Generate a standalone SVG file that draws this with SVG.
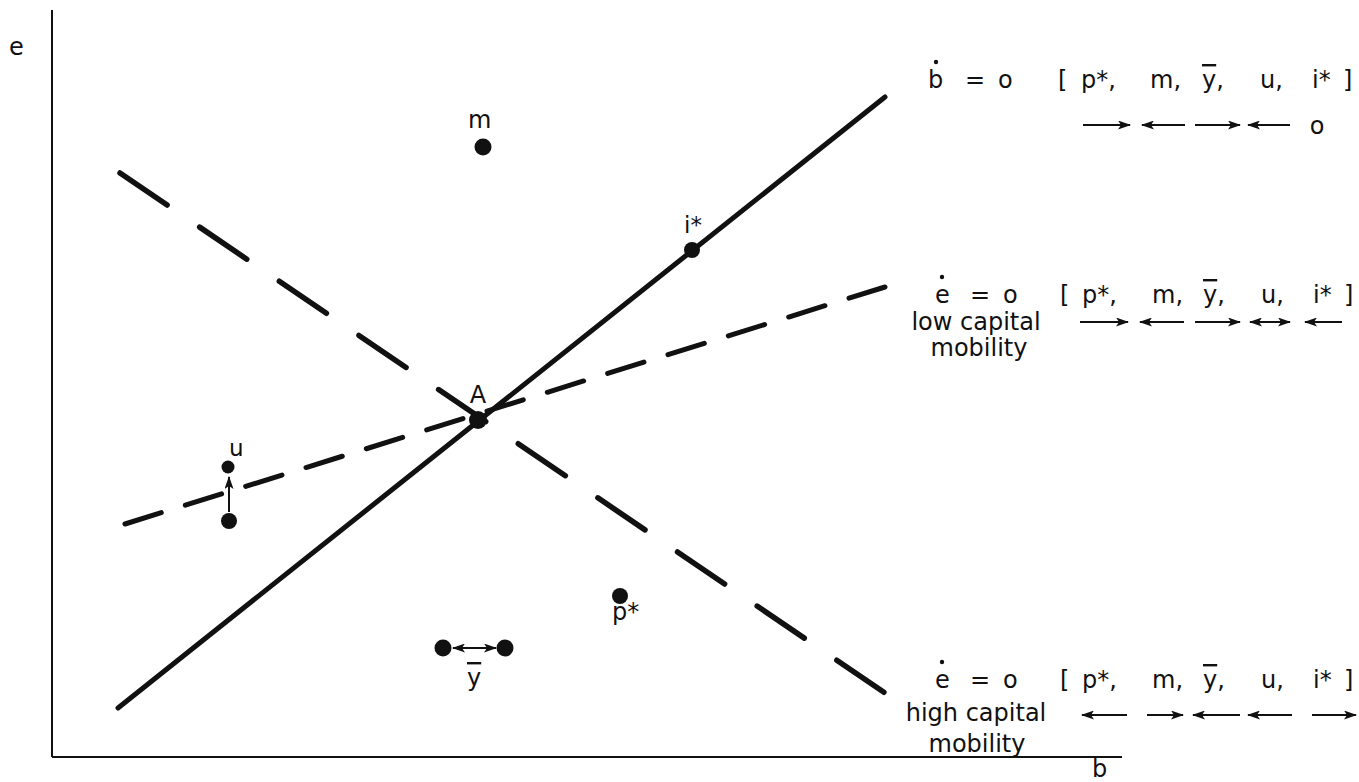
<svg xmlns="http://www.w3.org/2000/svg" width="1359" height="782" viewBox="0 0 1359 782">
<style>
  .t{font-family:"DejaVu Sans","Liberation Sans",sans-serif;font-size:24px;fill:#111}
  .s{font-family:"DejaVu Sans","Liberation Sans",sans-serif;font-size:23px;fill:#111}
  .ov{text-decoration:overline}
  .ax{stroke:#111;stroke-width:2;fill:none}
  .solid{stroke:#111;stroke-width:5;stroke-linecap:round;fill:none}
  .dash1{stroke:#111;stroke-width:5.5;stroke-linecap:round;fill:none;stroke-dasharray:57 39.3}
  .dash2{stroke:#111;stroke-width:5;stroke-linecap:round;fill:none;stroke-dasharray:38 25.2}
  .ar{stroke:#111;stroke-width:2;fill:none}
  .dot{fill:#111}
</style>
<defs>
  <marker id="ah" viewBox="0 0 13 9" refX="12" refY="4.5" markerWidth="13" markerHeight="9" orient="auto-start-reverse" markerUnits="userSpaceOnUse">
    <path d="M0,0 L13,4.5 L0,9 L3,4.5 Z" fill="#111"/>
  </marker>
</defs>
<rect width="1359" height="782" fill="#fff"/>

<g id="axes">
  <line class="ax" x1="52" y1="10" x2="52" y2="757"/>
  <line class="ax" x1="52" y1="757" x2="1122" y2="757"/>
  <text class="t" x="9" y="55">e</text>
  <text class="t" x="1092" y="777">b</text>
</g>

<g id="connectors">
  <line class="solid" x1="118" y1="708" x2="885" y2="97"/>
  <line class="dash1" x1="120" y1="173" x2="885" y2="693"/>
  <line class="dash2" x1="125" y1="524" x2="885" y2="287"/>
  <line class="ar" x1="229" y1="512" x2="229" y2="477" marker-end="url(#ah)"/>
  <line class="ar" x1="453" y1="648" x2="496" y2="648" marker-start="url(#ah)" marker-end="url(#ah)"/>
</g>

<g id="node-m">
  <circle class="dot" cx="483" cy="147" r="8.5"/>
  <text class="t" x="468" y="128">m</text>
</g>
<g id="node-istar">
  <circle class="dot" cx="692" cy="250" r="8"/>
  <text class="s" x="684" y="233">i*</text>
</g>
<g id="node-A">
  <circle class="dot" cx="478" cy="420" r="9"/>
  <text class="t" x="478" y="403" text-anchor="middle">A</text>
</g>
<g id="node-u">
  <circle class="dot" cx="228" cy="467" r="6.5"/>
  <circle class="dot" cx="229" cy="521" r="8"/>
  <text class="s" x="229" y="456">u</text>
</g>
<g id="node-pstar">
  <circle class="dot" cx="620" cy="596" r="8"/>
  <text class="t" x="612" y="620">p*</text>
</g>
<g id="node-ybar">
  <circle class="dot" cx="443" cy="648" r="8.5"/>
  <circle class="dot" cx="505" cy="648" r="8.5"/>
  <text class="t ov" x="467" y="686">y</text>
</g>

<g id="eq-bdot">
  <text class="t" x="928" y="88">b</text>
  <circle class="dot" cx="936" cy="62" r="2.2"/>
  <text class="t" x="965" y="88">=</text>
  <text class="t" x="998" y="88">o</text>
  <text class="t" x="1058" y="88">[</text>
  <text class="t" x="1081" y="88">p*,</text>
  <text class="t" x="1150" y="88">m,</text>
  <text class="t" x="1202" y="88"><tspan class="ov">y</tspan>,</text>
  <text class="t" x="1260" y="88">u,</text>
  <text class="t" x="1312" y="88">i*</text>
  <text class="t" x="1343" y="88">]</text>
  <line class="ar" x1="1083" y1="125" x2="1130" y2="125" marker-end="url(#ah)"/>
  <line class="ar" x1="1185" y1="125" x2="1142" y2="125" marker-end="url(#ah)"/>
  <line class="ar" x1="1195" y1="125" x2="1240" y2="125" marker-end="url(#ah)"/>
  <line class="ar" x1="1290" y1="125" x2="1248" y2="125" marker-end="url(#ah)"/>
  <text class="t" x="1317" y="134" text-anchor="middle">o</text>
</g>

<g id="eq-edot-low">
  <text class="t" x="935" y="303">e</text>
  <circle class="dot" cx="942" cy="277" r="2.2"/>
  <text class="t" x="970" y="303">=</text>
  <text class="t" x="1003" y="303">o</text>
  <text class="t" x="1060" y="303">[</text>
  <text class="t" x="1082" y="303">p*,</text>
  <text class="t" x="1152" y="303">m,</text>
  <text class="t" x="1203" y="303"><tspan class="ov">y</tspan>,</text>
  <text class="t" x="1261" y="303">u,</text>
  <text class="t" x="1313" y="303">i*</text>
  <text class="t" x="1344" y="303">]</text>
  <text class="t" x="976" y="330" text-anchor="middle">low capital</text>
  <text class="t" x="979" y="356" text-anchor="middle">mobility</text>
  <line class="ar" x1="1080" y1="322" x2="1128" y2="322" marker-end="url(#ah)"/>
  <line class="ar" x1="1184" y1="322" x2="1140" y2="322" marker-end="url(#ah)"/>
  <line class="ar" x1="1195" y1="322" x2="1240" y2="322" marker-end="url(#ah)"/>
  <line class="ar" x1="1250" y1="322" x2="1290" y2="322" marker-start="url(#ah)" marker-end="url(#ah)"/>
  <line class="ar" x1="1342" y1="322" x2="1305" y2="322" marker-end="url(#ah)"/>
</g>

<g id="eq-edot-high">
  <text class="t" x="935" y="688">e</text>
  <circle class="dot" cx="942" cy="662" r="2.2"/>
  <text class="t" x="970" y="688">=</text>
  <text class="t" x="1003" y="688">o</text>
  <text class="t" x="1060" y="688">[</text>
  <text class="t" x="1082" y="688">p*,</text>
  <text class="t" x="1152" y="688">m,</text>
  <text class="t" x="1203" y="688"><tspan class="ov">y</tspan>,</text>
  <text class="t" x="1261" y="688">u,</text>
  <text class="t" x="1313" y="688">i*</text>
  <text class="t" x="1344" y="688">]</text>
  <text class="t" x="976" y="721" text-anchor="middle">high capital</text>
  <text class="t" x="977" y="752" text-anchor="middle">mobility</text>
  <line class="ar" x1="1127" y1="715" x2="1082" y2="715" marker-end="url(#ah)"/>
  <line class="ar" x1="1147" y1="715" x2="1183" y2="715" marker-end="url(#ah)"/>
  <line class="ar" x1="1240" y1="715" x2="1193" y2="715" marker-end="url(#ah)"/>
  <line class="ar" x1="1292" y1="715" x2="1248" y2="715" marker-end="url(#ah)"/>
  <line class="ar" x1="1312" y1="715" x2="1356" y2="715" marker-end="url(#ah)"/>
</g>
</svg>
